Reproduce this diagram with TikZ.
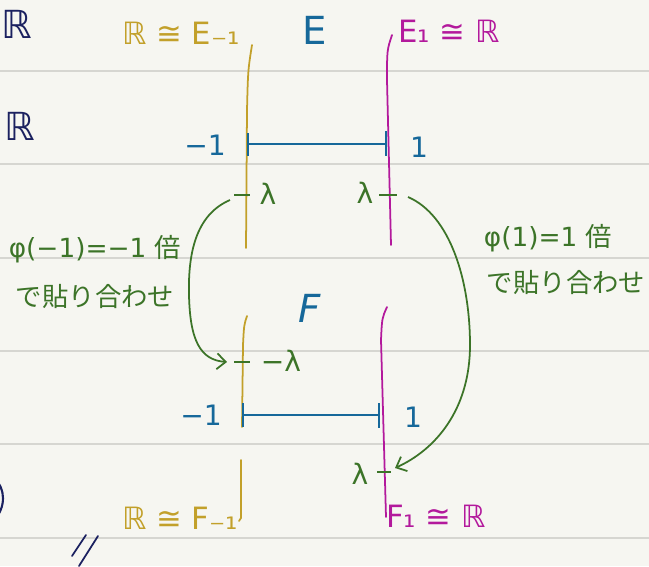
\documentclass[tikz,border=0pt]{standalone}
\usepackage{fontspec}
\setmainfont{DejaVu Sans}
\newfontfamily\jpfont{Noto Sans CJK JP}
\usetikzlibrary{arrows.meta}

\definecolor{paper}{HTML}{F6F6F1}
\definecolor{ruleline}{HTML}{D6D6D1}
\definecolor{ink}{HTML}{1B2160}
\definecolor{golden}{HTML}{C2A02A}
\definecolor{magen}{HTML}{B3199C}
\definecolor{bluish}{HTML}{16689A}
\definecolor{leaf}{HTML}{3C7428}

\begin{document}
\begin{tikzpicture}[
  x=0.02cm, y=-0.02cm,
  >={Straight Barb[length=5pt,width=9pt]},
  rule/.style={draw=ruleline, line width=1.2pt},
  fibre/.style={line width=1pt, line cap=round},
  seg/.style={draw=bluish, line width=1.6pt},
  tick/.style={draw=leaf, line width=1.2pt},
  glue/.style={->, draw=leaf, line width=1pt},
  lab/.style={inner sep=0pt, font=\fontsize{16}{18}\selectfont},
  iso/.style={inner sep=0pt, font=\fontsize{17.5}{19}\selectfont},
  big/.style={inner sep=0pt, font=\fontsize{22}{24}\selectfont},
  note/.style={inner sep=0pt, text=leaf, font=\fontsize{15}{17}\selectfont}
]
\clip (0,0) rectangle (649,566);
\fill[paper] (0,0) rectangle (649,566);
\foreach \y in {71,164,258,351,444,538}
  \draw[rule] (0,\y) -- (649,\y);

% margin scribbles
\node[big, text=ink] (mR) at (17,24) {ℝ};
\node[big, text=ink] (mRR) at (20,126) {ℝ};
\draw[ink, line width=1.2pt] (-6,478) .. controls (6,488) and (6,508) .. (-6,520);
\draw[ink, line width=1pt, line cap=round] (86,535) -- (72,556);
\draw[ink, line width=1pt, line cap=round] (98,536) -- (79,566);

% E
\node[iso, text=golden] (Eml) at (181,33) {ℝ ≅ E₋₁};
\node[big, text=bluish] (Elab) at (315,30) {E};
\node[iso, text=magen] (Epl) at (449,31) {E₁ ≅ ℝ};
\draw[fibre, golden] (252,45) .. controls (248,70) .. (247,110) -- (246,248);
\draw[fibre, magen] (392,35) .. controls (387,50) .. (387,80) -- (391,245);

\coordinate (Em) at (248,144);
\coordinate (Ep) at (386,144);
\draw[seg] (Em) -- (Ep);
\draw[seg] (248,133) -- (248,156);
\draw[seg] (386,131) -- (386,156);
\node[lab, text=bluish] (Eminus) at (205,145) {−1};
\node[lab, text=bluish] (Eplus) at (419,147) {1};

\draw[tick] (234,195) -- (250,195);
\draw[tick] (379,195) -- (397,195);
\node[lab, text=leaf] (lamEm) at (268,194) {λ};
\node[lab, text=leaf] (lamEp) at (365,193) {λ};

% F
\node[big, text=bluish, font=\fontsize{22}{24}\selectfont\itshape] (Flab) at (310,308) {F};
\draw[fibre, golden] (247,316) .. controls (244,325) .. (243,345) -- (242,427);
\draw[fibre, golden] (241,460) -- (241,518) -- (239,521);
\draw[fibre, magen] (387,307) .. controls (382,318) .. (381,340) -- (386,517);

\coordinate (Fm) at (243,415);
\coordinate (Fp) at (379,415);
\draw[seg] (Fm) -- (Fp);
\draw[seg] (243,403) -- (243,427);
\draw[seg] (379,403) -- (379,428);
\node[lab, text=bluish] (Fminus) at (201,415) {−1};
\node[lab, text=bluish] (Fplus) at (413,417) {1};

\draw[tick] (234,362) -- (250,362);
\draw[tick] (377,472) -- (391,472);
\node[lab, text=leaf] (lamFm) at (281,361) {−λ};
\node[lab, text=leaf] (lamFp) at (360,474) {λ};

\node[iso, text=golden] (Fml) at (180,518) {ℝ ≅ F₋₁};
\node[iso, text=magen] (Fpl) at (436,516) {F₁ ≅ ℝ};

% gluing
\coordinate (gE1) at (230,200);
\coordinate (gF1) at (227,362);
\coordinate (gE2) at (408,197);
\coordinate (gF2) at (395,468);
\draw[glue] (gE1) .. controls (195,215) and (188,255) .. (189,295)
  .. controls (190,340) and (200,360) .. (gF1);
\draw[glue] (gE2) .. controls (450,215) and (470,280) .. (470,345)
  .. controls (470,410) and (435,450) .. (gF2);

\node[note] (gl1) at (95,249) {φ(−1)=−1 {\jpfont 倍}};
\node[note] (gl2) at (95,296) {\jpfont で貼り合わせ};
\node[note] (gr1) at (548,238) {φ(1)=1 {\jpfont 倍}};
\node[note] (gr2) at (566,282) {\jpfont で貼り合わせ};
\end{tikzpicture}
\end{document}
